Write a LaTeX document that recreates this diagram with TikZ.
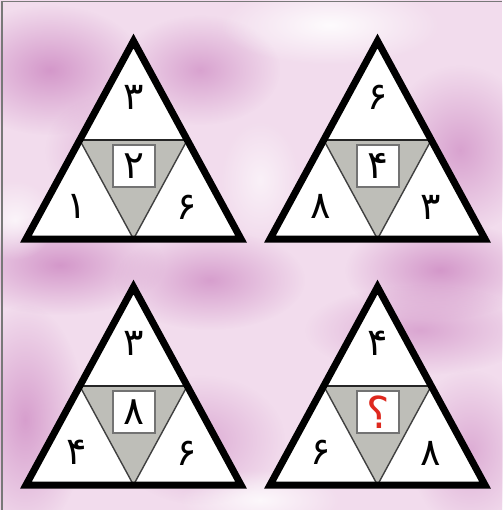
\documentclass[tikz,border=0pt]{standalone}
\usepackage{fontspec}
\newfontfamily\fa[Script=Arabic]{DejaVu Sans}
\usetikzlibrary{fadings}
\tikzfading[name=softblob, inner color=transparent!0, outer color=transparent!100]
\definecolor{bgpink}{RGB}{242,220,237}
\definecolor{blob}{RGB}{210,148,200}
\definecolor{midgray}{RGB}{190,190,184}
\definecolor{qred}{RGB}{222,40,30}
\definecolor{framegray}{RGB}{120,120,120}
\tikzset{
  outer/.style={line width=7pt, line join=miter, miter limit=10},
  midline/.style={line width=2.6pt, black!85},
  innerline/.style={line width=1.4pt, black!75},
  numbox/.style={draw=black!55, line width=1.1pt, fill=white, minimum size=42pt, inner sep=0pt, font=\fa\fontsize{39}{39}\selectfont},
  num/.style={inner sep=0pt, font=\fa\fontsize{38}{38}\selectfont},
  cloud/.style={fill=blob, path fading=softblob},
  whiteblob/.style={fill=white, path fading=softblob}
}
\begin{document}
\begin{tikzpicture}[x=1pt,y=-1pt]
\useasboundingbox (0,0) rectangle (502,510);
\fill[bgpink] (0,0) rectangle (502,510);
% cloudy background
\fill[cloud, opacity=0.95] (50,70) ellipse (95pt and 65pt);
\fill[cloud, opacity=0.8] (200,70) ellipse (80pt and 55pt);
\fill[cloud, opacity=0.8] (460,150) ellipse (75pt and 85pt);
\fill[cloud, opacity=0.95] (60,265) ellipse (105pt and 50pt);
\fill[cloud, opacity=0.85] (210,280) ellipse (95pt and 50pt);
\fill[cloud, opacity=0.95] (440,270) ellipse (95pt and 50pt);
\fill[cloud, opacity=0.85] (25,420) ellipse (60pt and 115pt);
\fill[cloud, opacity=0.75] (420,330) ellipse (115pt and 45pt);
\fill[cloud, opacity=0.65] (200,440) ellipse (85pt and 65pt);
\fill[cloud, opacity=0.65] (470,450) ellipse (60pt and 80pt);
\fill[cloud, opacity=0.55] (110,150) ellipse (65pt and 55pt);
\fill[whiteblob, opacity=0.9] (330,25) ellipse (110pt and 40pt);
\fill[whiteblob, opacity=0.8] (260,500) ellipse (80pt and 30pt);
\fill[whiteblob, opacity=0.7] (15,220) ellipse (40pt and 40pt);
\fill[whiteblob, opacity=0.6] (260,180) ellipse (40pt and 60pt);
% frame (top and left)
\draw[framegray, line width=1.5pt] (2,510) -- (2,1.5) -- (502,1.5);
% triangles
\foreach \ox/\oy/\t/\l/\r/\c/\n in {0/0/۳/۱/۶/۲/A, 244/0/۶/۸/۳/۴/B, 0/246/۳/۴/۶/۸/C, 244/246/۴/۶/۸/{\textcolor{qred}{\fontsize{44}{44}\selectfont ؟}}/D}{
\begin{scope}[shift={(\ox,\oy)}]
  \coordinate (\n a) at (133.5,41);
  \coordinate (\n l) at (26,239);
  \coordinate (\n r) at (241,239);
  \coordinate (\n ml) at (79.75,140);
  \coordinate (\n mr) at (187.25,140);
  \coordinate (\n mb) at (133.5,239);
  \fill[white] (\n a) -- (\n l) -- (\n r) -- cycle;
  \fill[midgray] (\n ml) -- (\n mr) -- (\n mb) -- cycle;
  \draw[innerline] (\n ml) -- (\n mb) -- (\n mr);
  \draw[midline] (\n ml) -- (\n mr);
  \draw[outer] (\n a) -- (\n l) -- (\n r) -- cycle;
  \node[numbox] (\n box) at (134,166) {\c};
  \node[num] (\n top) at (133.5,97) {\t};
  \node[num] (\n left) at (77,206) {\l};
  \node[num] (\n right) at (187,207) {\r};
\end{scope}}
\end{tikzpicture}
\end{document}
